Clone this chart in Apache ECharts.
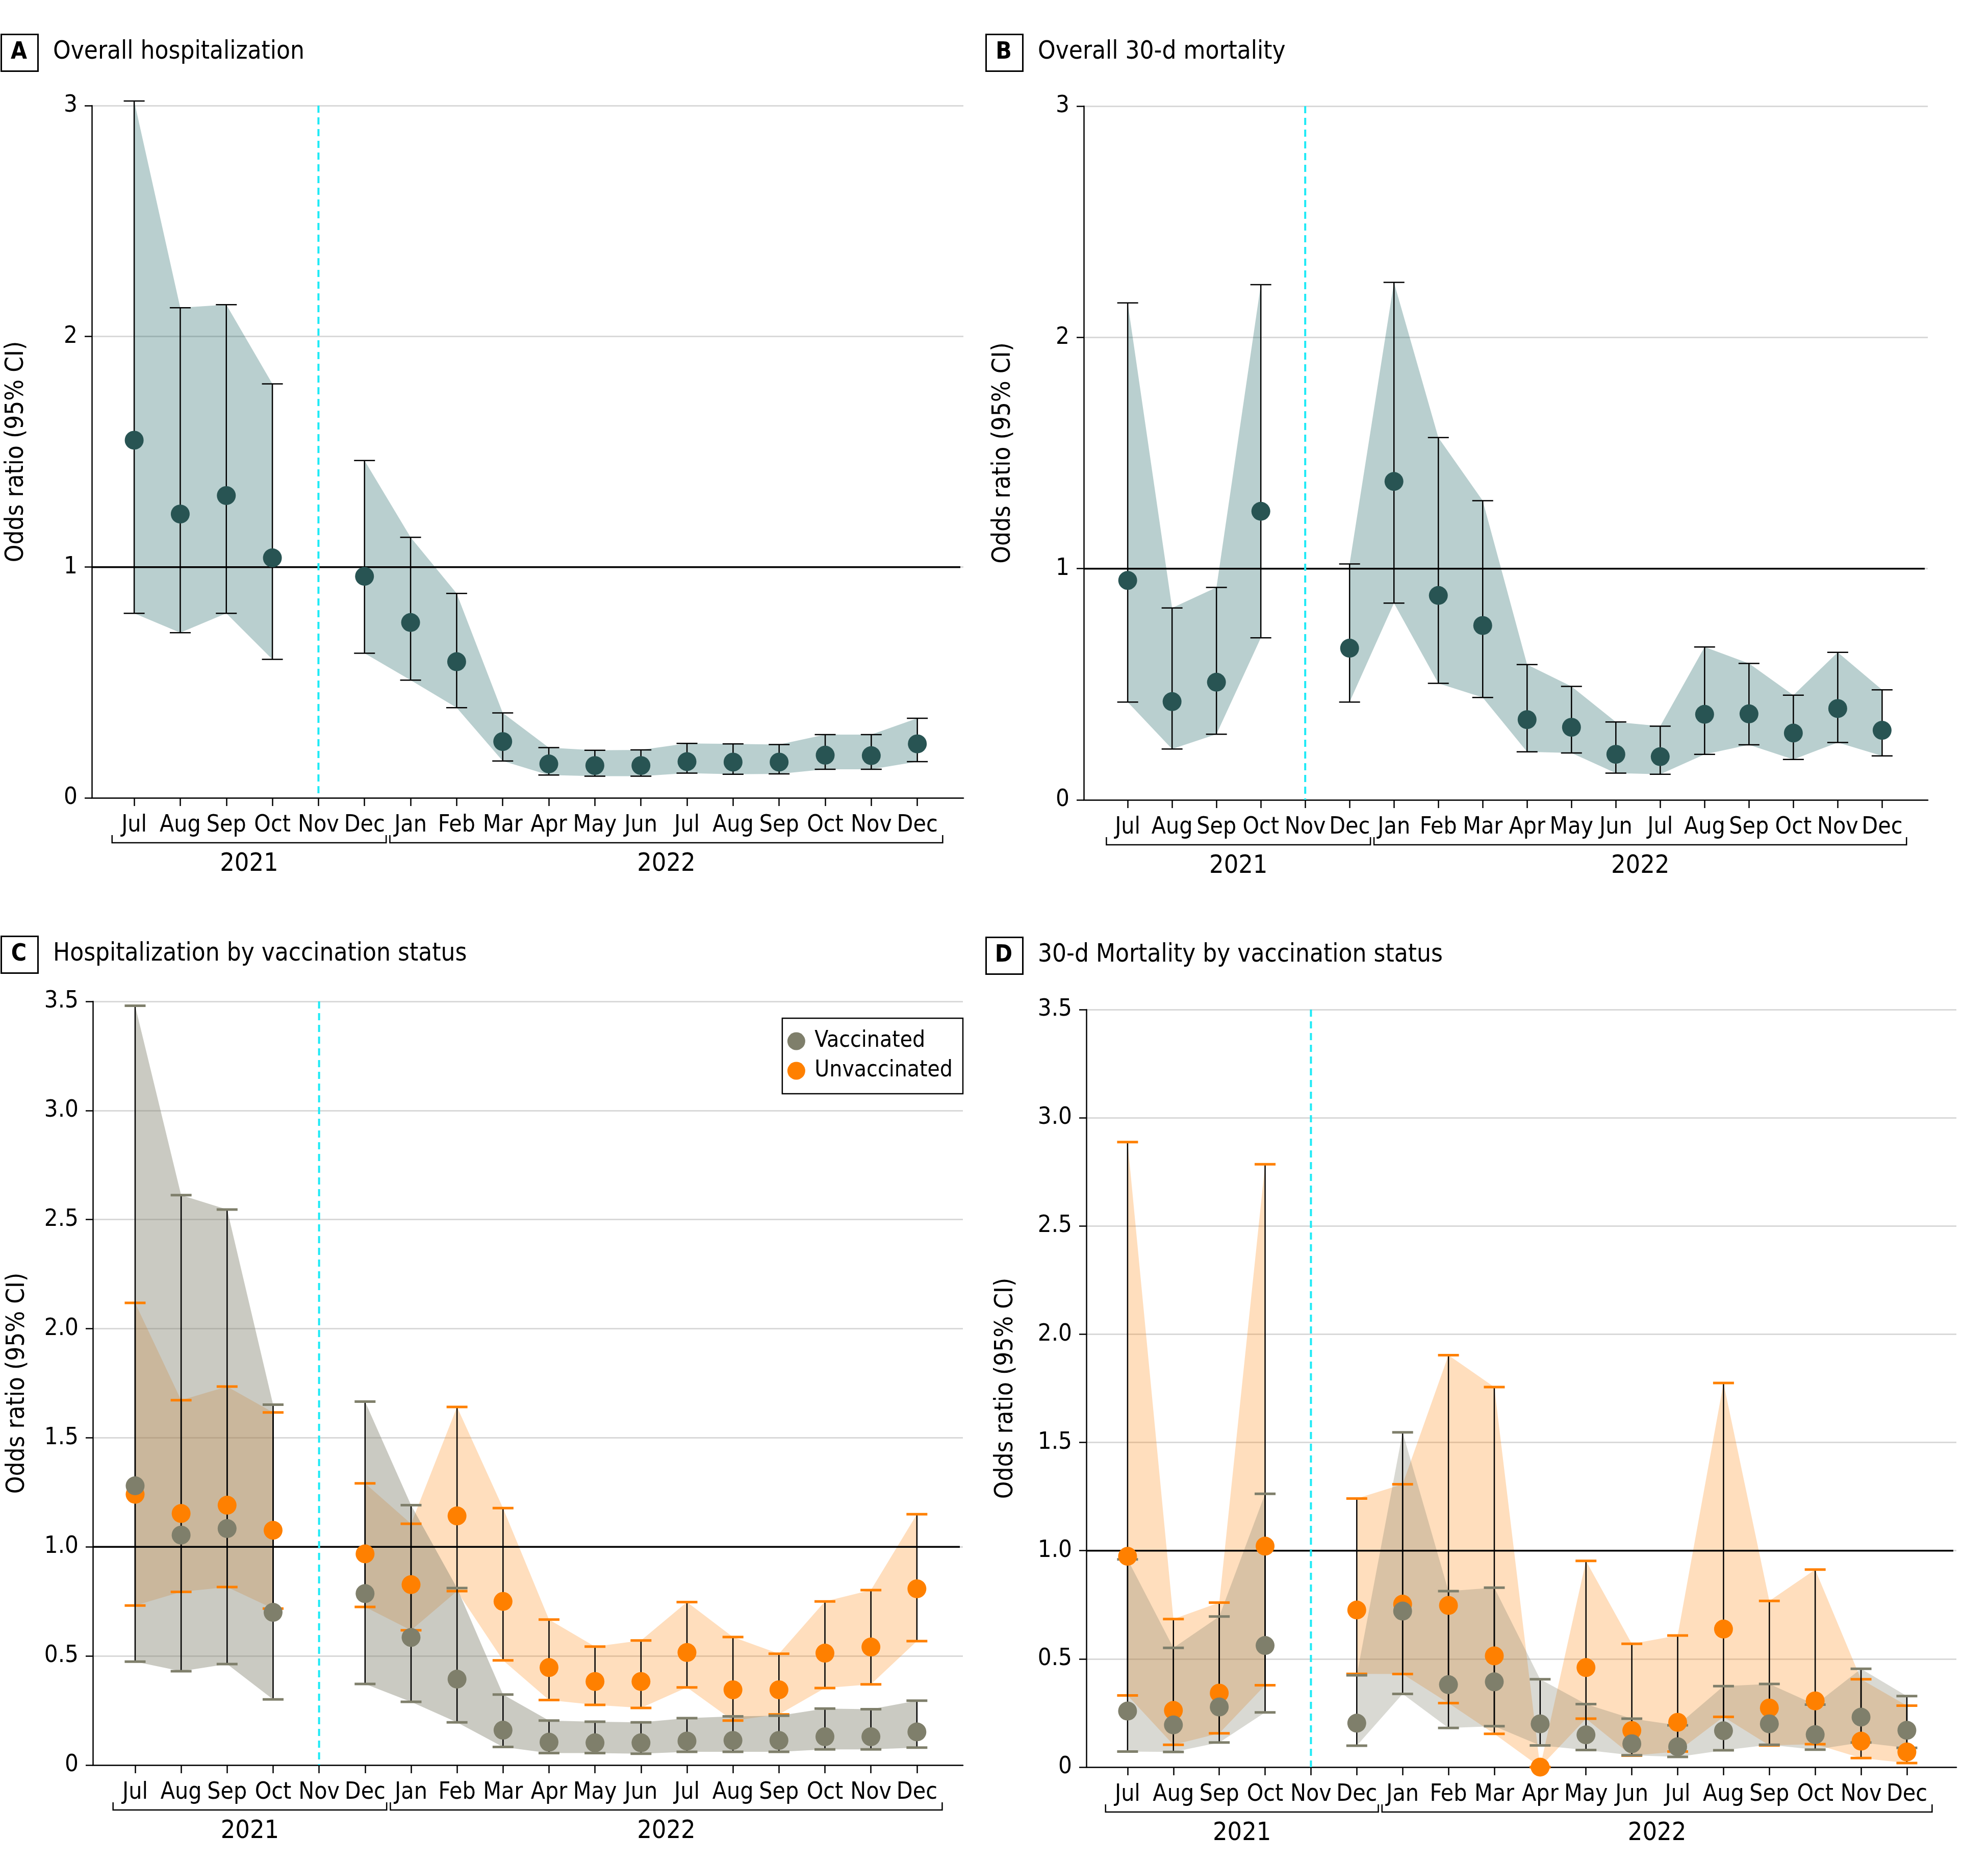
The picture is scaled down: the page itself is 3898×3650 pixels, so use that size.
<!DOCTYPE html>
<html>
<head>
<meta charset="utf-8">
<script src="https://cdn.jsdelivr.net/npm/echarts@6/dist/echarts.min.js"></script>
<style>
  html, body { margin: 0; padding: 0; background: #fff; }
  #chart { width: 3898px; height: 3650px; }
</style>
</head>
<body>
<div id="chart"></div>
<script>
var FONT = '"DejaVu Sans Condensed", "DejaVu Sans", sans-serif'

// month categories, Jul 2021 .. Dec 2022 (index 4 = Nov 2021 has no estimate)
var months = ['Jul', 'Aug', 'Sep', 'Oct', 'Nov', 'Dec', 'Jan', 'Feb', 'Mar', 'Apr', 'May', 'Jun', 'Jul', 'Aug', 'Sep', 'Oct', 'Nov', 'Dec']
var years = ['2021', '2022']
var yearSpans = [[-0.48, 5.47], [5.55, 17.55]]
var cutoverMonth = 4
var refOdds = 1

// A - overall hospitalization
var hospOr = [1.55, 1.23, 1.31, 1.04, null, 0.96, 0.76, 0.59, 0.244, 0.147, 0.14, 0.14, 0.157, 0.155, 0.155, 0.185, 0.183, 0.234]
var hospLo = [0.80, 0.716, 0.80, 0.60, null, 0.627, 0.51, 0.391, 0.16, 0.099, 0.094, 0.094, 0.107, 0.102, 0.104, 0.124, 0.124, 0.157]
var hospHi = [3.02, 2.124, 2.137, 1.794, null, 1.462, 1.129, 0.886, 0.368, 0.218, 0.206, 0.208, 0.236, 0.234, 0.231, 0.274, 0.274, 0.345]

// B - overall 30-d mortality
var mortOr = [0.949, 0.425, 0.509, 1.248, null, 0.656, 1.377, 0.884, 0.754, 0.347, 0.314, 0.197, 0.187, 0.370, 0.372, 0.289, 0.395, 0.301]
var mortLo = [0.423, 0.220, 0.284, 0.701, null, 0.423, 0.851, 0.504, 0.443, 0.208, 0.203, 0.116, 0.111, 0.197, 0.238, 0.175, 0.248, 0.190]
var mortHi = [2.149, 0.830, 0.919, 2.228, null, 1.020, 2.238, 1.567, 1.294, 0.585, 0.491, 0.337, 0.319, 0.661, 0.590, 0.453, 0.638, 0.476]

// C - hospitalization by vaccination status
var hospVacOr = [1.280, 1.054, 1.084, 0.700, null, 0.786, 0.585, 0.394, 0.160, 0.105, 0.102, 0.102, 0.110, 0.113, 0.113, 0.130, 0.130, 0.152]
var hospVacLo = [0.474, 0.430, 0.463, 0.301, null, 0.372, 0.290, 0.196, 0.083, 0.055, 0.055, 0.052, 0.061, 0.061, 0.061, 0.072, 0.072, 0.080]
var hospVacHi = [3.480, 2.612, 2.546, 1.652, null, 1.666, 1.191, 0.811, 0.323, 0.204, 0.199, 0.196, 0.215, 0.223, 0.226, 0.259, 0.256, 0.295]
var hospUnvOr = [1.241, 1.153, 1.191, 1.076, null, 0.968, 0.827, 1.142, 0.750, 0.447, 0.383, 0.383, 0.516, 0.345, 0.345, 0.513, 0.541, 0.808]
var hospUnvLo = [0.731, 0.794, 0.816, 0.717, null, 0.725, 0.618, 0.797, 0.480, 0.298, 0.276, 0.262, 0.356, 0.204, 0.232, 0.353, 0.370, 0.568]
var hospUnvHi = [2.118, 1.672, 1.735, 1.616, null, 1.291, 1.106, 1.641, 1.178, 0.667, 0.543, 0.571, 0.747, 0.587, 0.510, 0.750, 0.802, 1.150]

// D - 30-d mortality by vaccination status
var mortVacOr = [0.259, 0.195, 0.278, 0.562, null, 0.203, 0.721, 0.381, 0.394, 0.200, 0.149, 0.108, 0.094, 0.168, 0.200, 0.150, 0.231, 0.170]
var mortVacLo = [0.072, 0.070, 0.114, 0.253, null, 0.099, 0.338, 0.181, 0.189, 0.100, 0.079, 0.055, 0.047, 0.078, 0.103, 0.081, 0.114, 0.089]
var mortVacHi = [0.960, 0.551, 0.696, 1.263, null, 0.424, 1.547, 0.813, 0.829, 0.406, 0.291, 0.224, 0.193, 0.374, 0.384, 0.289, 0.454, 0.328]
var mortUnvOr = [0.974, 0.262, 0.342, 1.021, null, 0.726, 0.753, 0.747, 0.514, 0.0, 0.460, 0.169, 0.207, 0.638, 0.273, 0.306, 0.120, 0.070]
var mortUnvLo = [0.331, 0.103, 0.156, 0.378, null, 0.431, 0.430, 0.296, 0.154, 0.0, 0.224, 0.053, 0.072, 0.232, 0.100, 0.106, 0.042, 0.019]
var mortUnvHi = [2.888, 0.684, 0.760, 2.785, null, 1.241, 1.307, 1.903, 1.756, 0.0, 0.953, 0.570, 0.608, 1.775, 0.768, 0.913, 0.406, 0.284]

var TEAL = '#285453', TEAL_BAND = 'rgba(22,95,95,0.3)'
var VAC = '#7F7F6B', UNV = '#FF8000'

var panels = [
  { letter: 'A', title: 'Overall hospitalization', grid: { left: 180, top: 207, width: 1709, height: 1357 }, xMin: -0.92, xMax: 18.0, yMax: 3, yStep: 1, box: [1, 66], nameGap: 123 },
  { letter: 'B', title: 'Overall 30-d mortality', grid: { left: 2125, top: 208, width: 1655, height: 1360 }, xMin: -0.99, xMax: 18.03, yMax: 3, yStep: 1, box: [1932, 66], nameGap: 133 },
  { letter: 'C', title: 'Hospitalization by vaccination status', grid: { left: 182, top: 1963, width: 1706, height: 1497 }, xMin: -0.92, xMax: 18.0, yMax: 3.5, yStep: 0.5, box: [1, 1834], nameGap: 123 },
  { letter: 'D', title: '30-d Mortality by vaccination status', grid: { left: 2130, top: 1979, width: 1706, height: 1485 }, xMin: -0.9, xMax: 18.08, yMax: 3.5, yStep: 0.5, box: [1932, 1836], nameGap: 133 }
]

var monthIdx = months.map(function (m, i) { return i })

function segments(arr) {
  var out = [], s = null
  for (var i = 0; i <= arr.length; i++) {
    if (i < arr.length && arr[i] != null) { if (s === null) s = i }
    else if (s !== null) { out.push([s, i - 1]); s = null }
  }
  return out
}

function bandSeries(k, lo, hi, fill) {
  return {
    type: 'custom', xAxisIndex: k, yAxisIndex: k, silent: true,
    data: segments(lo),
    renderItem: function (params, api) {
      var s = api.value(0), e = api.value(1), pts = []
      for (var i = s; i <= e; i++) pts.push(api.coord([i, hi[i]]))
      for (var j = e; j >= s; j--) pts.push(api.coord([j, lo[j]]))
      return { type: 'polygon', shape: { points: pts }, style: { fill: fill } }
    }
  }
}

// reference line at OR = 1 and dashed cutover line
function refSeries(k) {
  return {
    type: 'custom', xAxisIndex: k, yAxisIndex: k, silent: true,
    data: [[cutoverMonth, refOdds]],
    renderItem: function (params, api) {
      var cs = params.coordSys
      var p = api.coord([api.value(0), api.value(1)])
      return { type: 'group', children: [
        { type: 'line', shape: { x1: cs.x, y1: p[1], x2: cs.x + cs.width - 6, y2: p[1] }, style: { stroke: '#000', lineWidth: 3.5 } },
        { type: 'line', shape: { x1: p[0], y1: cs.y, x2: p[0], y2: cs.y + cs.height }, style: { stroke: '#1EEAF6', lineWidth: 4, lineDash: [14, 9] } }
      ] }
    }
  }
}

function errSeries(k, lo, hi, capColor, capLw) {
  var data = []
  lo.forEach(function (v, i) { if (v != null) data.push([i, v, hi[i]]) })
  return {
    type: 'custom', xAxisIndex: k, yAxisIndex: k, silent: true, data: data,
    renderItem: function (params, api) {
      var x = api.value(0)
      var b = api.coord([x, api.value(1)]), t = api.coord([x, api.value(2)])
      var hw = 20.5
      return { type: 'group', children: [
        { type: 'line', shape: { x1: t[0], y1: t[1], x2: b[0], y2: b[1] }, style: { stroke: '#000', lineWidth: 2.5 } },
        { type: 'line', shape: { x1: t[0] - hw, y1: t[1], x2: t[0] + hw, y2: t[1] }, style: { stroke: capColor, lineWidth: capLw } },
        { type: 'line', shape: { x1: b[0] - hw, y1: b[1], x2: b[0] + hw, y2: b[1] }, style: { stroke: capColor, lineWidth: capLw } }
      ] }
    }
  }
}

function pointSeries(k, name, vals, color) {
  var data = []
  vals.forEach(function (v, i) { if (v != null) data.push([i, v]) })
  return {
    type: 'scatter', name: name, xAxisIndex: k, yAxisIndex: k, data: data, clip: false,
    symbol: 'circle', symbolSize: 37, itemStyle: { color: color, opacity: 1 }, silent: true
  }
}

function yearSeries(k) {
  return {
    type: 'custom', xAxisIndex: k, yAxisIndex: k, silent: true,
    data: yearSpans.map(function (s, i) { return [s[0], s[1], i] }),
    renderItem: function (params, api) {
      var a = api.coord([api.value(0), 0]), b = api.coord([api.value(1), 0])
      var y = a[1] + 88
      return { type: 'group', children: [
        { type: 'polyline', shape: { points: [[a[0], y - 15], [a[0], y], [b[0], y], [b[0], y - 15]] }, style: { stroke: '#000', lineWidth: 2.5, fill: null } },
        { type: 'text', x: (a[0] + b[0]) / 2, y: y + 42, style: { text: years[api.value(2)], fontSize: 50, fontFamily: FONT, fill: '#000', align: 'center', verticalAlign: 'middle' } }
      ] }
    }
  }
}

var grids = [], xAxes = [], yAxes = [], graphics = []
panels.forEach(function (p, k) {
  grids.push(p.grid)
  xAxes.push({
    gridIndex: k, type: 'value', min: p.xMin, max: p.xMax,
    axisLine: { onZero: false, lineStyle: { color: '#000', width: 2.5 } },
    axisTick: { customValues: monthIdx, length: 16, lineStyle: { color: '#000', width: 2.5 } },
    axisLabel: { customValues: monthIdx, margin: 31, fontSize: 46, fontFamily: FONT, color: '#000',
      hideOverlap: false, showMinLabel: true, showMaxLabel: true,
      formatter: function (v) { return months[Math.round(v)] } },
    splitLine: { show: false }
  })
  yAxes.push({
    gridIndex: k, type: 'value', min: 0, max: p.yMax, interval: p.yStep,
    axisLine: { show: true, onZero: false, lineStyle: { color: '#000', width: 2.5 } },
    axisTick: { show: true, length: 14, lineStyle: { color: '#000', width: 2.5 } },
    axisLabel: { margin: 28, fontSize: 47, fontFamily: FONT, color: '#000',
      formatter: function (v) { return p.yStep < 1 && v !== 0 ? v.toFixed(1) : String(v) } },
    splitLine: { show: true, lineStyle: { color: '#D9D9D9', width: 3 } },
    name: 'Odds ratio (95% CI)', nameLocation: 'middle', nameGap: p.nameGap,
    nameTextStyle: { fontSize: 49, fontFamily: FONT, color: '#000' }
  })
  graphics.push({ type: 'rect', left: p.box[0], top: p.box[1], shape: { width: 72, height: 72 }, style: { fill: '#fff', stroke: '#000', lineWidth: 3 } })
  graphics.push({ type: 'text', x: p.box[0] + 36, y: p.box[1] + 37, style: { text: p.letter, fontSize: 46, fontWeight: 'bold', fontFamily: FONT, fill: '#000', align: 'center', verticalAlign: 'middle' } })
  graphics.push({ type: 'text', x: p.box[0] + 103, y: p.box[1] + 36, style: { text: p.title, fontSize: 49, fontFamily: FONT, fill: '#000', align: 'left', verticalAlign: 'middle' } })
})

var series = [
  // A
  bandSeries(0, hospLo, hospHi, TEAL_BAND), refSeries(0), errSeries(0, hospLo, hospHi, '#000', 2.5), pointSeries(0, 'Overall hosp', hospOr, TEAL), yearSeries(0),
  // B
  bandSeries(1, mortLo, mortHi, TEAL_BAND), refSeries(1), errSeries(1, mortLo, mortHi, '#000', 2.5), pointSeries(1, 'Overall mort', mortOr, TEAL), yearSeries(1),
  // C
  bandSeries(2, hospUnvLo, hospUnvHi, 'rgba(255,128,0,0.26)'), bandSeries(2, hospVacLo, hospVacHi, 'rgba(128,128,110,0.42)'), refSeries(2),
  errSeries(2, hospUnvLo, hospUnvHi, UNV, 5), errSeries(2, hospVacLo, hospVacHi, VAC, 5),
  pointSeries(2, 'Unvaccinated', hospUnvOr, UNV), pointSeries(2, 'Vaccinated', hospVacOr, VAC), yearSeries(2),
  // D
  bandSeries(3, mortUnvLo, mortUnvHi, 'rgba(255,128,0,0.26)'), bandSeries(3, mortVacLo, mortVacHi, 'rgba(128,128,110,0.3)'), refSeries(3),
  errSeries(3, mortUnvLo, mortUnvHi, UNV, 5), errSeries(3, mortVacLo, mortVacHi, VAC, 5),
  pointSeries(3, 'Unvaccinated', mortUnvOr, UNV), pointSeries(3, 'Vaccinated', mortVacOr, VAC), yearSeries(3)
]

var chart = echarts.init(document.getElementById('chart'), null, { renderer: 'canvas' })
chart.setOption({
  animation: false,
  backgroundColor: '#fff',
  grid: grids,
  xAxis: xAxes,
  yAxis: yAxes,
  legend: {
    data: ['Vaccinated', 'Unvaccinated'], orient: 'vertical', right: 3898 - 1888, top: 1996,
    icon: 'circle', itemWidth: 62, itemHeight: 35, itemGap: 14, padding: [23, 20, 23, 10],
    borderColor: '#000', borderWidth: 2.5, backgroundColor: '#fff', selectedMode: false,
    textStyle: { fontSize: 44, fontFamily: FONT, color: '#000' }
  },
  graphic: graphics,
  series: series
})
</script>
</body>
</html>
